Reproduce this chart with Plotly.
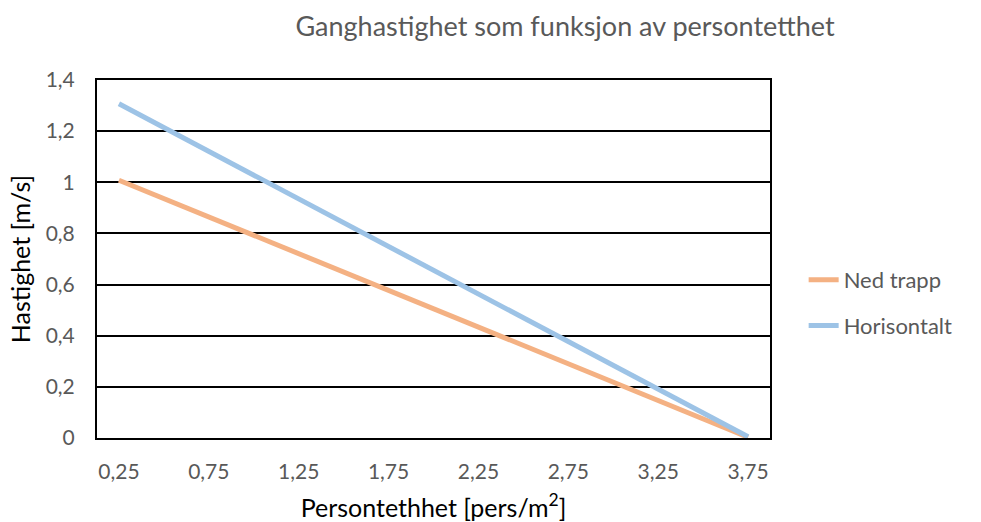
import plotly.graph_objects as go

# Persontetthet (pers/m²) og ganghastighet (m/s)
tetthet = [0.25, 0.75, 1.25, 1.75, 2.25, 2.75, 3.25, 3.75]
ned_trapp = [1.008, 0.864, 0.720, 0.577, 0.433, 0.290, 0.146, 0.003]
horisontalt = [1.307, 1.121, 0.935, 0.749, 0.563, 0.377, 0.191, 0.005]

x_ticks = [0.25, 0.75, 1.25, 1.75, 2.25, 2.75, 3.25, 3.75]
y_ticks = [0, 0.2, 0.4, 0.6, 0.8, 1.0, 1.2, 1.4]

FONT = "Lato"
GREY = "#595959"

fig = go.Figure()
fig.add_trace(go.Scatter(x=tetthet, y=ned_trapp, mode="lines", name="Ned trapp",
                         legendgroup="ned", line=dict(color="#F4B183", width=5)))
fig.add_trace(go.Scatter(x=tetthet, y=horisontalt, mode="lines", name="Horisontalt",
                         legendgroup="hor", line=dict(color="#9DC3E6", width=5)))

fig.update_layout(
    width=981, height=522,
    separators=", ",
    paper_bgcolor="white", plot_bgcolor="white",
    margin=dict(l=97, r=211, t=80, b=84),
    font=dict(family=FONT, size=21, color=GREY),
    title=dict(text="Ganghastighet som funksjon av persontetthet",
               x=565 / 981, xanchor="center", xref="container",
               y=1 - 27 / 522, yanchor="middle", yref="container",
               font=dict(family=FONT, size=27, color=GREY)),
    legend=dict(x=1.05, y=0.377, xanchor="left", yanchor="middle",
                font=dict(family=FONT, size=22, color=GREY),
                tracegroupgap=14),
    showlegend=True,
)

fig.update_xaxes(range=[0.128, 3.872], tickvals=x_ticks, tickformat=".2f",
                 automargin=False,
                 showgrid=False, zeroline=False, showline=True, linecolor="black",
                 linewidth=2, mirror=True, ticks="", ticklabelstandoff=14,
                 tickfont=dict(family=FONT, size=21, color=GREY),
                 title=dict(text="Persontethhet [pers/m<sup>2</sup>]", standoff=26,
                            font=dict(family=FONT, size=25, color="black")))
fig.update_yaxes(range=[0, 1.4], tickvals=y_ticks, automargin=False,
                 showgrid=True, gridcolor="black", gridwidth=1.5, zeroline=False,
                 showline=True, linecolor="black", linewidth=2, mirror=True,
                 ticks="", ticklabelstandoff=16,
                 tickfont=dict(family=FONT, size=21, color=GREY),
                 title=dict(text="Hastighet [m/s]", standoff=8,
                            font=dict(family=FONT, size=25, color="black")))

fig.write_html("out.html")
